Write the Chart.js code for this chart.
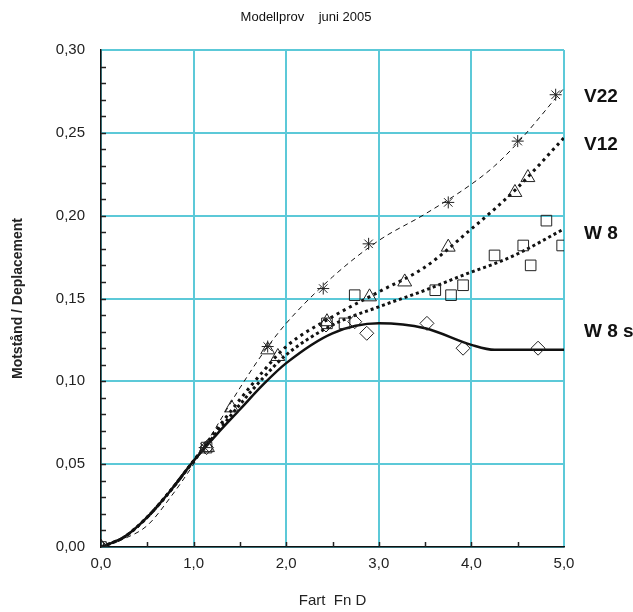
<!DOCTYPE html>
<html>
<head>
<meta charset="utf-8">
<script src="https://cdn.jsdelivr.net/npm/chart.js@4"></script>
<style>
  html, body { margin: 0; padding: 0; background: #fff; }
  #wrap { width: 633px; height: 612px; }
</style>
</head>
<body>
<div id="wrap"><canvas id="chart"></canvas></div>
<script>
// measured points (Fn D, Motstand / Deplacement)
const v22Fn = [0, 1.12, 1.80, 2.40, 2.89, 3.75, 4.50, 4.91];
const v22R = [0, 0.060, 0.121, 0.156, 0.183, 0.208, 0.245, 0.273];

const v12Fn = [0, 1.15, 1.41, 1.80, 1.91, 2.44, 2.90, 3.28, 3.75, 4.47, 4.61];
const v12R = [0, 0.060, 0.084, 0.119, 0.115, 0.136, 0.151, 0.160, 0.181, 0.214, 0.223];

const w8Fn = [0, 1.14, 2.44, 2.63, 2.74, 3.61, 3.78, 3.91, 4.25, 4.56, 4.64, 4.81, 4.98];
const w8R = [0, 0.060, 0.135, 0.135, 0.152, 0.155, 0.152, 0.158, 0.176, 0.182, 0.170, 0.197, 0.182];

const w8sFn = [0, 1.14, 2.43, 2.74, 2.87, 3.52, 3.91, 4.72];
const w8sR = [0, 0.060, 0.134, 0.136, 0.129, 0.135, 0.120, 0.120];

// fitted curves
const curveFn = [0, 0.25, 0.5, 0.75, 1.0, 1.25, 1.5, 1.75, 2.0, 2.5, 3.0, 3.5, 4.0, 4.25, 4.5, 5.0];
const v22Curve = [0, 0.005, 0.013, 0.030, 0.050, 0.073, 0.096, 0.117, 0.135, 0.163, 0.185, 0.201, 0.219, 0.230, 0.244, 0.277];
const v12Curve = [0, 0.006, 0.018, 0.034, 0.052, 0.071, 0.089, 0.106, 0.121, 0.139, 0.154, 0.169, 0.192, 0.204, 0.217, 0.247];
const w8Curve = [0, 0.006, 0.018, 0.034, 0.052, 0.069, 0.086, 0.102, 0.116, 0.134, 0.145, 0.155, 0.166, 0.171, 0.177, 0.192];
const w8sCurve = [0, 0.006, 0.018, 0.034, 0.052, 0.068, 0.083, 0.098, 0.111, 0.129, 0.135, 0.132, 0.122, 0.119, 0.119, 0.119];

const seriesLabels = ["V22", "V12", "W 8", "W 8 s"];
const labelValues = [0.272, 0.243, 0.189, 0.130];

const xTicks = [0, 1, 2, 3, 4, 5];
const yTicks = [0, 0.05, 0.1, 0.15, 0.2, 0.25, 0.3];

const pts = (xs, ys) => xs.map((x, i) => ({ x: x, y: ys[i] }));

const lineSet = (ys, dash, width) => ({
  type: "line",
  data: pts(curveFn, ys),
  borderColor: "#111",
  borderWidth: width,
  borderDash: dash,
  pointRadius: 0,
  fill: false,
  cubicInterpolationMode: "monotone",
  order: 2,
});

const markSet = (xs, ys, style, r) => ({
  type: "scatter",
  data: pts(xs, ys),
  pointStyle: style,
  pointRadius: r,
  pointBorderColor: "#222",
  pointBackgroundColor: "rgba(0,0,0,0)",
  pointBorderWidth: 1,
  order: 1,
});

const extras = {
  id: "extras",
  afterDraw(chart) {
    const { ctx, chartArea, scales } = chart;
    const xs = scales.x;
    const ys = scales.y;
    ctx.save();
    // inner minor ticks
    ctx.strokeStyle = "#222";
    ctx.lineWidth = 1.5;
    for (let v = 0.01; v < 0.3; v += 0.01) {
      const py = Math.round(ys.getPixelForValue(v)) + 0.5;
      ctx.beginPath();
      ctx.moveTo(chartArea.left, py);
      ctx.lineTo(chartArea.left + 5, py);
      ctx.stroke();
    }
    for (let v = 0.5; v < 5; v += 0.5) {
      const px = Math.round(xs.getPixelForValue(v)) + 0.5;
      ctx.beginPath();
      ctx.moveTo(px, chartArea.bottom);
      ctx.lineTo(px, chartArea.bottom - 5);
      ctx.stroke();
    }
    // series names to the right
    ctx.fillStyle = "#111";
    ctx.font = "bold 19px 'Liberation Sans', Arial, sans-serif";
    ctx.textBaseline = "middle";
    ctx.textAlign = "left";
    seriesLabels.forEach((t, i) => {
      ctx.fillText(t, chartArea.right + 20, ys.getPixelForValue(labelValues[i]));
    });
    // title
    ctx.font = "13px 'Liberation Sans', Arial, sans-serif";
    ctx.textAlign = "center";
    ctx.fillText("Modellprov    juni 2005", 306, 17);
    ctx.restore();
  },
};

const data = {
  datasets: [
    lineSet(w8sCurve, [], 2.5),
    lineSet(w8Curve, [3, 3], 3),
    lineSet(v12Curve, [3, 4], 3),
    lineSet(v22Curve, [5, 4], 1),
    markSet(v22Fn, v22R, "star", 6),
    markSet(v12Fn, v12R, "triangle", 8),
    markSet(w8Fn, w8R, "rect", 7.5),
    markSet(w8sFn, w8sR, "rectRot", 7),
  ],
};

const tickFont = { family: "'Liberation Sans', Arial, sans-serif", size: 15 };

const config = {
  type: "scatter",
  data: data,
  plugins: [extras],
  options: {
    responsive: true,
    maintainAspectRatio: false,
    animation: false,
    layout: {
      padding: { top: 50, right: 69, left: 0, bottom: 0 },
    },
    scales: {
      x: {
        type: "linear",
        min: 0,
        max: 5,
        afterBuildTicks: (s) => {
          s.ticks = xTicks.map((v) => ({ value: v }));
        },
        afterFit: (s) => {
          s.height = 65;
        },
        grid: {
          color: "#5cc9d8",
          lineWidth: 2,
          drawTicks: false,
        },
        border: { color: "#111", width: 1.5 },
        ticks: {
          color: "#222",
          font: tickFont,
          padding: 8,
          callback: (v) => v.toFixed(1).replace(".", ","),
        },
        title: {
          display: true,
          text: "Fart  Fn D",
          color: "#222",
          font: { family: "'Liberation Sans', Arial, sans-serif", size: 15 },
          padding: { top: 0, bottom: 2 },
        },
      },
      y: {
        type: "linear",
        min: 0,
        max: 0.3,
        afterBuildTicks: (s) => {
          s.ticks = yTicks.map((v) => ({ value: v }));
        },
        afterFit: (s) => {
          s.width = 101;
        },
        grid: {
          color: "#5cc9d8",
          lineWidth: 2,
          drawTicks: false,
        },
        border: { color: "#111", width: 1.5 },
        ticks: {
          color: "#222",
          font: tickFont,
          padding: 16,
          callback: (v) => v.toFixed(2).replace(".", ","),
        },
        title: {
          display: true,
          text: "Motstånd / Deplacement",
          color: "#222",
          font: { family: "'Liberation Sans', Arial, sans-serif", size: 14, weight: "bold" },
          padding: { top: 10, bottom: 0 },
        },
      },
    },
    plugins: {
      legend: { display: false },
      tooltip: { enabled: false },
    },
  },
};

new Chart(document.getElementById("chart"), config);
</script>
</body>
</html>
